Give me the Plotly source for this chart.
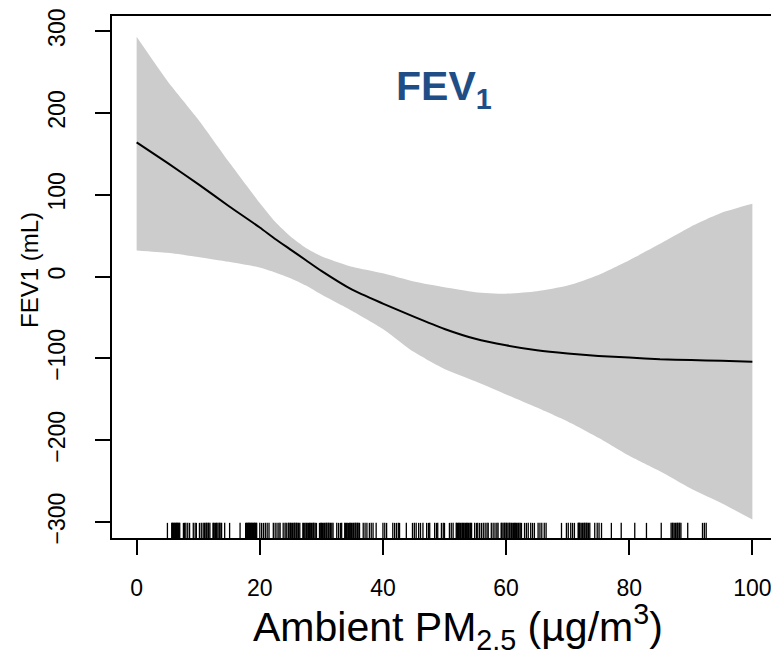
import plotly.graph_objects as go

# Smooth fit and 95% CI
x_grid = [0, 5, 10, 15, 20, 22.5, 25, 27.5, 30, 35, 40, 45, 50, 55, 60, 65, 70, 75, 80, 85, 90, 95, 100]
fit = [164, 139, 113, 86, 60, 46, 33, 20, 7, -16, -33, -49, -64, -76, -84, -90, -94, -97, -99, -101, -102, -103, -104]
upper = [293, 239, 192, 140, 90, 67, 49, 35, 25, 12, 4, -6, -13, -19, -21, -18, -11, 2, 20, 40, 61, 78, 89]
lower = [32, 29, 24, 18, 11, 5, -2, -11, -22, -42, -64, -92, -113, -128, -144, -160, -177, -197, -219, -238, -259, -277, -297]

# Rug positions of observed PM2.5 values
rug = [5.0, 5.7, 5.8, 5.9, 6.0, 6.1, 6.2, 6.3, 6.4, 6.5, 6.6, 6.7, 6.8, 6.9, 7.0,
       7.6, 7.8, 8.0, 8.3, 8.6, 9.2, 9.5, 9.7,
       10.2, 10.5, 10.8, 11.0, 11.1, 11.3, 11.4, 11.6, 11.7, 11.9,
       12.4, 12.5, 12.6, 12.8, 12.9, 13.0, 13.2, 13.4, 13.5, 13.7, 13.8, 14.3, 15.1,
       16.8, 17.7, 17.8, 17.9, 18.0, 18.1, 18.2, 18.3, 18.4, 18.5, 18.6, 18.7, 18.8, 18.9,
       19.0, 19.1, 19.2, 19.3, 19.4, 19.5, 20.0, 20.3, 20.6, 20.9,
       21.2, 21.5, 22.2, 22.5, 22.8, 23.1, 23.3, 23.8, 24.1, 24.3,
       24.6, 24.7, 24.9, 25.0, 25.1, 25.3, 25.4, 25.6, 25.7, 25.9, 26.0, 26.2, 26.3, 26.5,
       27.0, 27.1, 27.3, 27.5, 27.6, 27.8, 27.9, 28.1, 28.2, 28.4, 28.5, 28.7, 28.8, 29.0, 29.2,
       29.7, 29.9, 30.0, 30.2, 30.3, 30.5, 30.6, 30.8, 30.9, 31.1, 31.2, 31.4, 31.5, 31.7, 31.9,
       32.5, 32.8, 33.1, 33.3,
       33.8, 33.9, 34.1, 34.2, 34.4, 34.6, 34.7, 34.9, 35.0, 35.2, 35.3, 35.5, 35.6, 35.8, 35.9,
       36.1, 36.2, 36.8, 37.1, 37.4, 37.8, 38.1, 38.4, 38.9, 40.0, 40.3, 40.6, 41.6, 41.9, 42.2,
       42.5, 42.7, 43.8, 44.8, 45.1, 45.4, 45.8, 46.1, 46.5, 47.1, 47.4, 47.6, 48.4, 48.7, 48.9,
       49.5, 49.8, 50.0, 50.8, 51.1, 51.4,
       51.9, 52.0, 52.1, 52.3, 52.4, 52.6, 52.7, 52.9, 53.0, 53.1, 53.3, 53.4, 53.6, 53.7, 53.9,
       54.0, 54.2, 54.3, 54.4, 54.9, 55.2, 55.4, 55.7, 56.0, 56.3, 56.6, 56.9, 57.1, 57.6, 57.9,
       58.2, 58.5, 58.7,
       59.2, 59.3, 59.5, 59.7, 59.8, 60.0, 60.1, 60.3, 60.5, 60.6, 60.8, 60.9, 61.1, 61.2, 61.4,
       61.5, 61.7, 61.8, 62.0, 62.1, 62.3, 62.5, 63.0, 63.3,
       63.6, 64.0, 64.3, 64.6, 65.2, 65.5, 65.8, 66.2, 66.5, 69.0, 69.8, 70.1, 70.5, 70.8, 71.1,
       71.7, 71.8, 71.9, 72.0, 72.2, 72.4, 72.5, 72.7, 72.8, 73.0, 73.1, 73.3, 73.4, 73.6,
       74.4, 74.8, 75.1, 75.5, 77.1, 78.7, 80.9,
       82.8, 85.2, 86.8, 87.0, 87.1, 87.3, 87.5, 87.6, 87.8, 87.9, 88.1, 88.2, 88.4, 89.5,
       91.9, 92.2, 92.5]

x_ticks = [0, 20, 40, 60, 80, 100]
y_ticks = [-300, -200, -100, 0, 100, 200, 300]
x_range = [-4, 104]
y_range = [-319.5, 318.5]
rug_top = -301

FONT = "Liberation Sans, Arial, sans-serif"

# The page body has an 8px margin, so the figure sits at (8, 8) in the window.
OFF = 8
W, H = 779 - OFF, 659 - OFF
PL, PR, PT, PB = 112 - OFF, 777 - OFF, 16 - OFF, 538 - OFF  # plot area in figure px
PW, PH = PR - PL, PB - PT

fig = go.Figure()

# CI band: lower edge then upper edge filled to it
fig.add_trace(go.Scatter(
    x=x_grid, y=lower, mode="lines",
    line=dict(width=0, color="#cccccc", shape="spline", smoothing=0.6),
    hoverinfo="skip", showlegend=False))
fig.add_trace(go.Scatter(
    x=x_grid, y=upper, mode="lines", fill="tonexty", fillcolor="#cccccc",
    line=dict(width=0, color="#cccccc", shape="spline", smoothing=0.6),
    hoverinfo="skip", showlegend=False))

# fitted curve
fig.add_trace(go.Scatter(
    x=x_grid, y=fit, mode="lines",
    line=dict(color="black", width=2, shape="spline", smoothing=0.6),
    showlegend=False))

# rug
rx, ry = [], []
for v in rug:
    rx += [v, v, None]
    ry += [y_range[0], rug_top, None]
fig.add_trace(go.Scatter(x=rx, y=ry, mode="lines",
                         line=dict(color="black", width=1.3),
                         hoverinfo="skip", showlegend=False))


def px_x(p):
    return (p - OFF - PL) / PW


def px_y(p):
    return (PB - (p - OFF)) / PH


fig.update_layout(
    width=W, height=H,
    margin=dict(l=PL, r=W - PR, t=PT, b=H - PB, autoexpand=False),
    paper_bgcolor="white", plot_bgcolor="white",
    font=dict(family=FONT, color="black"),
    showlegend=False,
    xaxis=dict(range=x_range, tickvals=x_ticks, ticktext=[str(v) for v in x_ticks],
               automargin=False,
               showgrid=False, zeroline=False,
               showline=True, mirror=True, linecolor="black", linewidth=1.5,
               ticks="outside", ticklen=15, tickwidth=1.5, tickcolor="black",
               tickfont=dict(size=23, family=FONT), ticklabelstandoff=14),
    yaxis=dict(range=y_range, tickvals=y_ticks, ticktext=[str(v).replace("-", "\u2212") for v in y_ticks],
               automargin=False,
               showgrid=False, zeroline=False,
               showline=True, mirror=True, linecolor="black", linewidth=1.5,
               ticks="outside", ticklen=15, tickwidth=1.5, tickcolor="black",
               tickangle=-90,
               tickfont=dict(size=23, family=FONT), ticklabelstandoff=21),
    annotations=[
        dict(text="FEV1 (mL)", xref="paper", yref="paper", x=px_x(29), y=px_y(270),
             textangle=-90, showarrow=False,
             xanchor="center", yanchor="middle",
             font=dict(size=24, family=FONT, color="black")),
        dict(text="Ambient PM<sub>2.5</sub> (µg/m<sup>3</sup>)", xref="paper", yref="paper",
             x=px_x(458), y=px_y(627), showarrow=False,
             xanchor="center", yanchor="middle",
             font=dict(size=41, family=FONT, color="black")),
        dict(text="<b>FEV<sub>1</sub></b>", xref="paper", yref="paper",
             x=px_x(444), y=px_y(89), showarrow=False,
             xanchor="center", yanchor="middle",
             font=dict(size=41, family=FONT, color="#1f4e87")),
    ],
)

fig.write_html("out.html")
